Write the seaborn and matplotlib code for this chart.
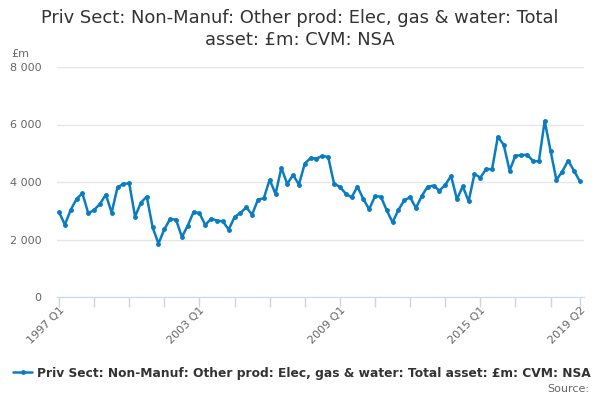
import numpy as np
import pandas as pd
import seaborn as sns
from matplotlib import pyplot as plt
from matplotlib.ticker import FuncFormatter, FixedLocator

# quarterly values, 1997 Q1 .. 2019 Q2
values = [2958, 2517, 3028, 3410, 3608, 2912, 3028, 3236, 3561, 2935,
          3816, 3932, 3956, 2796, 3283, 3492, 2424, 1856, 2355, 2714,
          2691, 2088, 2482, 2958, 2912, 2506, 2726, 2656, 2633, 2343,
          2784, 2923, 3120, 2865, 3387, 3434, 4083, 3584, 4489, 3932,
          4246, 3909, 4640, 4837, 4814, 4907, 4872, 3944, 3828, 3596,
          3468, 3840, 3410, 3051, 3503, 3492, 3016, 2598, 3028, 3364,
          3468, 3097, 3515, 3840, 3874, 3700, 3898, 4211, 3399, 3851,
          3329, 4280, 4153, 4454, 4443, 5580, 5290, 4396, 4918, 4930,
          4953, 4733, 4721, 6125, 5081, 4072, 4362, 4744, 4396, 4025]
start_year = 1997
quarters = ["%d Q%d" % (start_year + i // 4, i % 4 + 1) for i in range(len(values))]
series_name = "Priv Sect: Non-Manuf: Other prod: Elec, gas & water: Total asset: £m: CVM: NSA"
title = "Priv Sect: Non-Manuf: Other prod: Elec, gas & water: Total\nasset: £m: CVM: NSA"
y_ticks = [0, 2000, 4000, 6000, 8000]

df = pd.DataFrame({"idx": range(len(values)), "value": values, "quarter": quarters})

sns.set_style("white")
plt.rcParams['font.family'] = ['DejaVu Sans']

blue = "#0a7cc1"
fig = plt.figure(figsize=(6, 4), dpi=100)
ax = fig.add_axes([0.095, 0.2575, 0.878, 0.575])
sns.lineplot(data=df, x="idx", y="value", ax=ax, color=blue, linewidth=1.8,
             marker="o", markersize=3.5, markeredgewidth=0, label=series_name)

ax.set_ylim(0, 8000)
ax.set_xlim(-0.34, 89.68)
ax.set_yticks(y_ticks)
ax.yaxis.set_major_formatter(FuncFormatter(lambda v, p: "{:,}".format(int(v)).replace(",", " ")))
ax.grid(axis="y", color="#e6e6e6", linewidth=1)
ax.set_axisbelow(True)
for s in ["top", "right", "left"]:
    ax.spines[s].set_visible(False)
ax.spines["bottom"].set_color("#ccd6eb")
ax.tick_params(axis="y", length=0, labelsize=8, labelcolor="#666666", pad=11)

# ticks every 6 quarters, labels every 24, plus last quarter
n = len(values)
tick_pos = list(range(0, n, 6)) + [n - 1]
ax.xaxis.set_major_locator(FixedLocator(tick_pos))
ax.set_xticklabels([quarters[p] if (p % 24 == 0 or p == n - 1) else "" for p in tick_pos],
                   rotation=45, ha="right", rotation_mode="anchor")
ax.tick_params(axis="x", bottom=True, length=7, width=1, color="#ccd6eb",
               labelsize=8, labelcolor="#666666", pad=-1)
ax.set_xlabel("")
ax.set_ylabel("")

fig.text(0.5, 0.978, title, ha="center", va="top", fontsize=12.9, color="#333333",
         linespacing=1.3)
fig.text(0.018, 0.858, "£m", fontsize=8, color="#666666")

leg = ax.legend(loc="upper center", bbox_to_anchor=(0.465, -0.255), frameon=False,
                prop={"weight": "bold", "size": 8.85}, handlelength=1.5, handletextpad=0.4)
for t in leg.get_texts():
    t.set_color("#333333")
fig.text(0.982, 0.02, "Source:", ha="right", fontsize=8, color="#666666")

fig.savefig("out.png", dpi=100)
